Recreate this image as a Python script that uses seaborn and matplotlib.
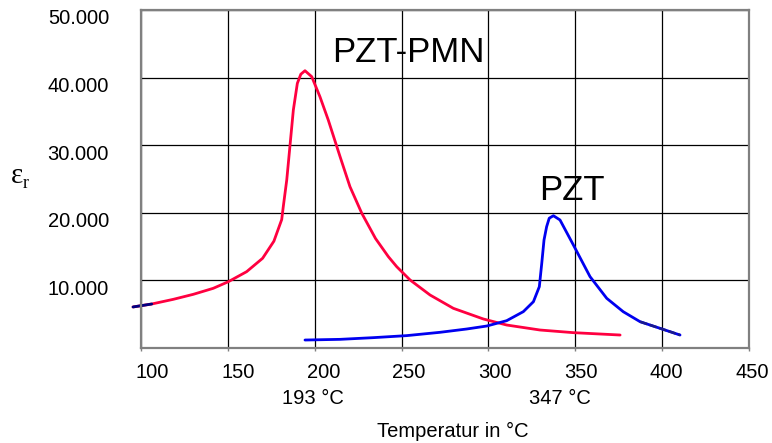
import numpy as np
import pandas as pd
import matplotlib
matplotlib.use("Agg")
import matplotlib.pyplot as plt
import matplotlib.transforms as mtransforms
import seaborn as sns

# PZT-PMN curve (red)
pmn_temp = [95.4, 106.2, 118.6, 130.1, 141.6, 150.3, 160.8, 170.0, 176.5, 181.0, 181.9,
            182.9, 183.9, 185.8, 187.7, 190.0, 192.0, 194.4, 198.3, 203.0, 207.8, 214.6,
            220.3, 227.1, 235.0, 242.4, 247.2, 254.9, 266.4, 279.8, 297.1, 310.5, 329.7,
            348.9, 375.8]
pmn_eps = [6070, 6510, 7200, 7940, 8830, 9810, 11290, 13270, 15800, 19000, 20900,
           22880, 24850, 30030, 35210, 39150, 40500, 41020, 40130, 37180, 33730, 28300,
           23860, 19930, 16200, 13510, 12030, 10060, 7840, 5870, 4290, 3400, 2660,
           2270, 1920]

# PZT curve (blue)
pzt_temp = [194.4, 214.6, 233.7, 252.9, 272.1, 287.5, 299.0, 310.5, 320.1, 325.9, 329.3,
            330.7, 332.0, 333.5, 335.0, 337.4, 341.2, 348.9, 358.5, 368.1, 377.6, 387.3,
            398.8, 410.3]
pzt_eps = [1180, 1280, 1530, 1830, 2320, 2810, 3250, 4040, 5380, 6850, 9070,
           12530, 15980, 17940, 19200, 19570, 18940, 15240, 10550, 7350, 5370, 3890,
           2910, 1920]

x_ticks = [100, 150, 200, 250, 300, 350, 400, 450]
y_ticks = [0, 10000, 20000, 30000, 40000, 50000]
y_labels = ["", "10.000", "20.000", "30.000", "40.000", "50.000"]
peak_labels = ["193 °C", "347 °C"]
peak_pos = [199, 341]

pmn_df = pd.DataFrame({"T": pmn_temp, "eps": pmn_eps})
pzt_df = pd.DataFrame({"T": pzt_temp, "eps": pzt_eps})

sns.set_style("white")
plt.rcParams["font.family"] = ["Liberation Sans", "DejaVu Sans"]
plt.rcParams["text.color"] = "black"
plt.rcParams["xtick.color"] = "black"
plt.rcParams["ytick.color"] = "black"

fig = plt.figure(figsize=(7.72, 4.43), dpi=100)
ax = fig.add_axes([141 / 772, 1 - 348 / 443, 608 / 772, 338 / 443])

sns.lineplot(data=pmn_df, x="T", y="eps", sort=False, estimator=None,
             color="#ff0040", lw=2, ax=ax)
sns.lineplot(data=pmn_df.iloc[:2], x="T", y="eps", sort=False, estimator=None,
             color="#000080", lw=2, ax=ax)
sns.lineplot(data=pzt_df, x="T", y="eps", sort=False, estimator=None,
             color="#0000f0", lw=2, ax=ax)
sns.lineplot(data=pzt_df.iloc[-3:], x="T", y="eps", sort=False, estimator=None,
             color="#1a1a8c", lw=1.8, ls=(0, (3, 1)), ax=ax)
for ln in ax.lines:
    ln.set_clip_on(False)
    ln.set_solid_capstyle("round")
    ln.set_solid_joinstyle("round")

ax.set_xlim(100, 450)
ax.set_ylim(0, 50000)
ax.set_xticks(x_ticks)
ax.set_xticklabels([str(v) for v in x_ticks])
ax.set_yticks(y_ticks)
ax.set_yticklabels(y_labels)
ax.grid(True, color="black", lw=0.9)
ax.set_axisbelow(True)
for s in ax.spines.values():
    s.set_color("#808080")
    s.set_linewidth(1.6)

ax.tick_params(axis="x", length=2.5, color="#808080", width=1, pad=8, labelsize=14.5, bottom=True)
ax.tick_params(axis="y", length=0, pad=23, labelsize=14.5)
n = len(x_ticks)
for i, lab in enumerate(ax.get_xticklabels()):
    shift = (11 - 8 * i / (n - 1)) / 100
    lab.set_transform(lab.get_transform() + mtransforms.ScaledTranslation(shift, 0, fig.dpi_scale_trans))
dy = mtransforms.ScaledTranslation(0, -0.07, fig.dpi_scale_trans)
for lab in ax.get_yticklabels():
    lab.set_transform(lab.get_transform() + dy)

ax.set_xlabel("")
ax.set_ylabel("")

ax.text(254, 42300, "PZT-PMN", fontsize=25, ha="center", va="baseline")
ax.text(348, 21900, "PZT", fontsize=25, ha="center", va="baseline")

for lab, pos in zip(peak_labels, peak_pos):
    ax.text(pos, -0.148, lab, fontsize=14.5, ha="center", va="center",
            transform=ax.get_xaxis_transform())

fig.text(453 / 772, 1 - 431 / 443, "Temperatur in °C", fontsize=14.5, ha="center", va="center")
fig.text(17 / 772, 1 - 183 / 443, "ε", fontsize=21, family="Liberation Serif", ha="center", va="baseline")
fig.text(23 / 772, 1 - 188 / 443, "r", fontsize=13, family="Liberation Serif", ha="left", va="baseline")

fig.savefig("out.png", dpi=100)
